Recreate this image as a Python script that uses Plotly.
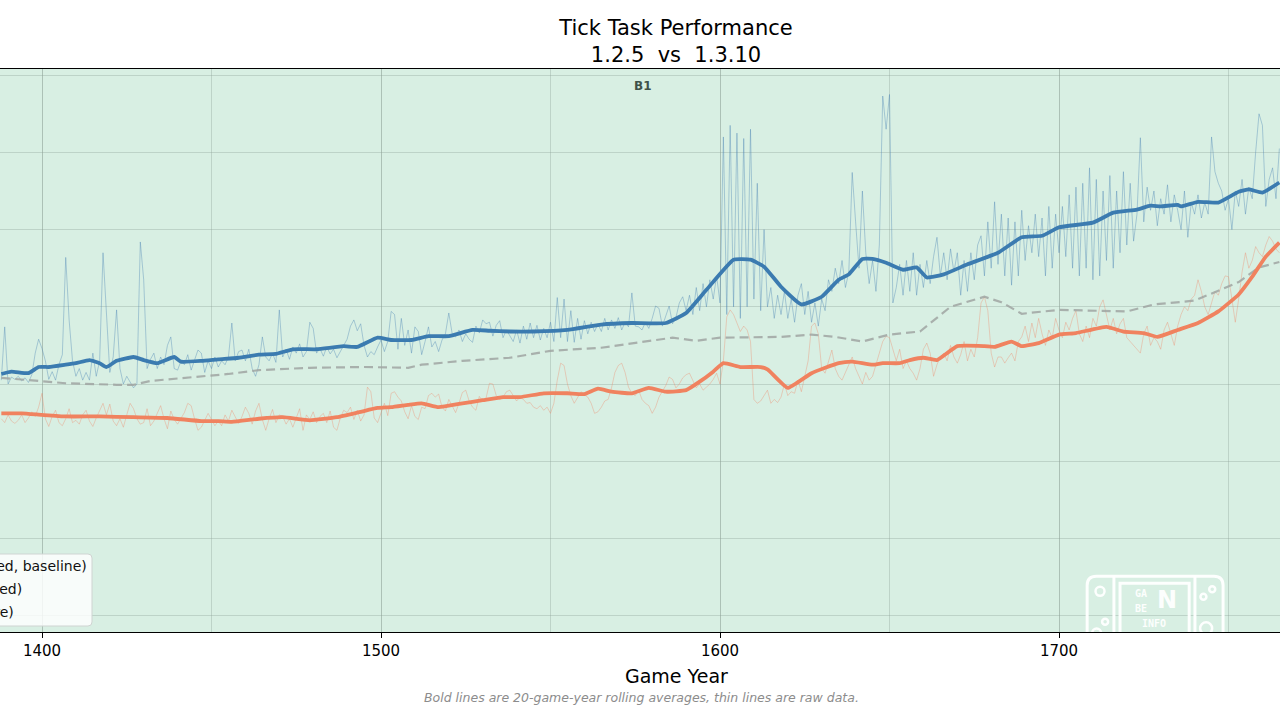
import plotly.graph_objects as go

# ---------------- data ----------------
years = list(range(1388, 1766))

blue_raw = [
    30.5, 37.4, 30.0, 30.9, 30.6, 31.0, 30.4, 30.8, 30.2, 31.2, 34.0, 35.8,
    34.6, 33.0, 30.6, 31.6, 30.5, 32.5, 33.8, 46.4, 38.3, 33.0,
    31.0, 32.0, 30.5, 31.5, 30.5, 34.0, 31.0, 33.0, 47.0, 39.2,
    31.5, 33.5, 39.6, 32.0, 30.0, 31.0, 30.2, 29.5, 30.0, 48.4,
    43.5, 32.0, 33.2, 34.0, 32.0, 33.5, 32.5, 35.0, 36.1, 32.0,
    31.8, 33.0, 32.5, 33.8, 31.8, 33.0, 34.4, 34.0, 31.5, 33.0,
    32.0, 33.5, 32.2, 33.0, 32.5, 33.5, 37.9, 33.0, 34.2, 34.4,
    33.0, 34.5, 32.0, 31.0, 32.5, 36.1, 33.5, 33.0, 34.0, 32.8,
    39.6, 33.5, 34.5, 33.2, 34.8, 34.0, 35.2, 33.5, 34.2, 38.0,
    37.2, 34.0, 34.6, 33.6, 34.8, 33.9, 34.5, 33.4, 34.2, 35.0,
    35.8, 37.5, 38.3, 36.9, 37.8, 35.0, 33.5, 34.2, 33.8, 34.8,
    35.7, 34.2, 35.5, 39.4, 39.0, 34.5, 38.5, 35.0, 37.0, 34.0,
    37.4, 36.8, 33.8, 35.5, 37.4, 34.8, 35.5, 34.2, 35.7, 36.5,
    39.2, 36.5, 36.1, 37.0, 35.5, 36.5, 35.8, 35.4, 37.5, 36.6,
    38.3, 37.8, 38.0, 36.2, 37.6, 38.2, 36.0, 37.0, 36.3, 35.5,
    37.0, 35.3, 37.5, 35.8, 37.9, 36.0, 37.6, 35.7, 37.2, 36.0,
    38.0, 35.5, 41.2, 36.0, 41.0, 35.5, 39.5, 35.4, 38.5, 35.8,
    38.2, 36.5, 38.0, 36.8, 37.8, 36.8, 38.5, 37.0, 38.3, 37.2,
    38.6, 37.0, 38.0, 37.4, 41.8, 37.5, 37.4, 37.0, 38.0, 37.2,
    38.5, 40.1, 39.8, 37.5, 38.8, 40.1, 37.8, 38.6, 40.5, 41.3,
    39.5, 41.5, 39.0, 42.5, 39.5, 43.0, 40.0, 43.5, 41.0, 44.0,
    40.5, 62.0, 39.0, 63.5, 40.0, 62.5, 38.5, 61.8, 40.0, 63.0,
    41.0, 56.0, 39.5, 50.0, 40.0, 42.5, 38.5, 41.5, 39.0, 42.0,
    38.5, 41.0, 38.0, 41.5, 43.0, 39.0, 42.0, 38.0, 40.5, 37.5,
    41.0, 39.5, 43.5, 42.0, 45.0, 43.0, 46.0, 42.5, 44.5, 57.4,
    51.0, 45.0, 55.0, 47.0, 43.0, 46.0, 42.0, 48.0, 67.3, 63.0,
    67.5, 40.5, 42.5, 45.5, 41.5, 46.0, 42.0, 47.0, 41.5, 45.5,
    42.5, 46.0, 43.0, 46.5, 49.0, 44.0, 47.0, 43.5, 47.5, 44.5,
    47.0, 41.5, 46.0, 42.0, 47.0, 43.5, 48.0, 49.2, 44.0, 51.0,
    45.0, 53.6, 45.5, 52.0, 44.0, 51.5, 42.8, 51.0, 44.0, 52.5,
    46.0, 50.5, 47.0, 52.0, 46.5, 51.5, 44.0, 53.0, 45.0, 52.0,
    47.0, 53.0, 46.5, 54.5, 45.0, 55.5, 44.0, 56.0, 45.0, 58.0,
    43.5, 56.5, 44.0, 55.0, 46.0, 57.0, 45.0, 55.0, 47.0, 57.5,
    48.0, 56.0, 48.5, 52.0, 61.9, 51.0, 55.5, 52.5, 55.0, 50.5,
    54.0, 52.0, 55.8, 51.0, 54.5, 52.5, 50.0, 55.0, 49.0, 53.5,
    52.0, 54.5, 51.5, 53.5, 52.0, 62.0, 57.5, 56.0, 55.0, 52.5,
    54.0, 50.0, 55.0, 53.0, 56.5, 52.0, 55.5, 54.0, 60.0, 65.0,
    63.5, 53.0, 56.5, 58.0, 54.0, 60.5,
]

orange_raw = [
    25.5, 25.0, 26.0, 25.2, 24.9, 25.3, 26.0, 25.0, 25.6, 26.4, 25.8, 27.0,
    28.8, 25.5, 24.5, 25.8, 26.6, 25.0, 24.6, 25.5, 26.8, 25.0,
    25.3, 24.8, 26.0, 26.6, 25.2, 24.5, 25.6, 26.6, 27.5, 26.0,
    27.4, 25.2, 24.6, 25.5, 24.4, 26.0, 27.5, 26.8, 25.5, 24.8,
    25.0, 26.8, 24.6, 25.2, 26.3, 27.2, 25.5, 24.2, 26.5, 25.4,
    24.8, 25.6, 26.3, 27.5, 27.2, 25.5, 24.0, 24.4, 25.3, 26.2,
    25.4, 24.6, 25.2, 24.6, 26.0, 25.2, 26.6, 25.8, 24.9, 25.8,
    27.0, 26.2, 24.8, 26.5, 27.5, 25.4, 24.0, 25.5, 26.7, 25.0,
    26.0, 25.8, 24.8, 25.5, 24.4, 25.6, 26.8, 24.0, 26.0, 25.4,
    26.4, 25.0, 25.8, 26.2, 25.0, 26.5, 24.4, 24.0, 25.6, 26.6,
    26.3, 27.0, 25.4, 26.6, 25.2, 26.0, 29.6, 29.0, 25.6, 25.0,
    26.2, 27.5, 25.9, 28.8, 29.0, 28.3, 27.8, 26.4, 25.5, 27.2,
    25.8, 25.4, 27.0, 26.8, 28.5, 28.8, 28.3, 28.7, 27.0, 26.5,
    28.0, 27.2, 26.3, 27.5, 28.9, 29.2, 27.8, 27.0, 26.6, 28.4,
    27.8, 28.2, 30.1, 30.0, 28.5, 28.0, 28.3, 29.0, 29.2, 28.5,
    27.8, 28.3, 28.0, 27.5, 27.6, 27.0, 26.8, 27.2, 26.6, 27.0,
    26.2, 27.5, 30.5, 32.7, 32.4, 30.0, 28.5, 27.5, 28.3, 29.0,
    28.6, 28.3, 27.5, 26.2, 26.4, 27.0, 27.8, 28.0, 29.5, 31.5,
    32.4, 32.7, 31.5, 29.6, 28.8, 28.5, 29.2, 28.0, 27.5, 27.2,
    26.2, 27.0, 28.3, 29.0, 29.8, 30.9, 30.6, 29.5, 30.0, 30.8,
    31.2, 31.4, 30.5, 29.5, 30.0, 29.2, 29.6, 30.0, 30.6, 31.4,
    30.0, 33.0, 38.7, 39.6, 39.0, 38.0, 36.8, 37.5, 37.0, 35.5,
    28.0, 27.5, 27.8, 28.5, 29.2, 27.5, 28.0, 27.6, 28.3, 30.0,
    28.5, 29.0, 28.8, 30.5, 29.0, 31.0, 33.0, 37.5, 37.9, 36.5,
    32.0, 31.4, 33.0, 34.4, 32.0, 31.0, 30.5, 31.5, 32.5, 33.5,
    32.0, 31.0, 30.0, 31.5, 30.5, 31.0, 32.5, 34.0, 35.5, 36.2,
    36.0, 34.5, 33.0, 34.5, 32.0, 33.0, 32.0, 31.4, 30.5, 32.0,
    34.5, 35.3, 34.0, 31.0, 32.5, 33.5, 34.0, 33.0, 35.0, 33.5,
    32.7, 33.8, 35.5, 33.0, 34.5, 33.5, 36.0, 40.5, 41.3, 39.5,
    34.0, 32.2, 33.5, 33.5, 32.7, 33.4, 34.0, 33.0, 35.5, 36.1,
    37.5, 35.5, 37.9, 36.0, 38.5, 36.5, 35.0, 37.0, 36.0, 38.5,
    37.0, 36.0, 38.0, 37.0, 38.5, 39.5, 36.5, 35.5, 37.5, 36.0,
    38.5, 37.5, 40.0, 40.9, 39.0, 37.0, 38.5, 36.5, 37.8, 38.5,
    36.0, 35.5, 35.0, 34.5, 34.0, 36.5, 37.5, 35.0, 36.0, 35.5,
    34.5, 37.0, 38.0, 36.5, 35.0, 37.5, 39.0, 40.0, 39.5, 41.0,
    41.5, 43.5, 42.0, 40.0, 39.0, 40.5, 42.0, 41.5, 43.0, 44.0,
    43.9, 41.0, 38.0, 41.0, 44.5, 47.0, 45.0, 46.0, 47.8, 47.0,
    46.5, 48.0, 49.1, 48.5, 47.5, 47.0,
]

blue_smooth_years = [1388, 1391, 1396, 1399, 1402, 1407, 1410, 1414, 1417, 1419, 1422, 1427,
                     1430, 1434, 1439, 1441, 1447, 1452, 1458, 1464, 1469, 1474, 1481, 1489,
                     1493, 1499, 1503, 1509, 1514, 1520, 1527, 1532, 1538, 1545, 1555, 1565,
                     1574, 1584, 1590, 1596, 1604, 1609, 1613, 1618, 1624, 1630, 1635, 1638,
                     1642, 1645, 1649, 1654, 1658, 1661, 1666, 1673, 1682, 1689, 1695, 1700,
                     1710, 1716, 1723, 1727, 1730, 1735, 1736, 1741, 1747, 1753, 1756, 1760, 1765]
blue_smooth = [31.3, 31.6, 31.4, 32.2, 32.2, 32.5, 32.7, 33.1, 32.7, 32.2, 33.0, 33.5,
               33.1, 32.7, 33.5, 32.9, 33.0, 33.2, 33.4, 33.8, 33.9, 34.5, 34.5, 34.9,
               34.8, 36.0, 35.7, 35.7, 36.2, 36.2, 37.0, 36.9, 36.8, 36.8, 37.0, 37.7,
               37.9, 37.9, 39.2, 42.2, 46.1, 46.1, 45.2, 42.6, 40.3, 41.3, 43.5, 44.2,
               46.2, 46.2, 45.7, 44.8, 45.1, 43.8, 44.2, 45.5, 47.0, 49.0, 49.2, 50.3,
               50.9, 52.2, 52.6, 53.1, 53.0, 53.2, 53.0, 53.6, 53.5, 54.9, 55.2, 54.8, 56.1]

orange_smooth_years = [1388, 1394, 1400, 1407, 1417, 1427, 1437, 1447, 1452, 1456, 1464, 1471,
                       1479, 1487, 1494, 1499, 1503, 1508, 1512, 1517, 1524, 1530, 1536, 1541,
                       1548, 1555, 1560, 1564, 1568, 1574, 1579, 1584, 1590, 1594, 1598, 1601,
                       1606, 1612, 1614, 1620, 1627, 1635, 1639, 1645, 1648, 1653, 1656, 1660,
                       1664, 1670, 1678, 1681, 1686, 1689, 1694, 1700, 1705, 1714, 1719, 1725,
                       1729, 1735, 1741, 1747, 1753, 1757, 1761, 1765]
orange_smooth = [26.2, 26.2, 26.0, 25.8, 25.8, 25.7, 25.6, 25.2, 25.2, 25.1, 25.5, 25.7,
                 25.3, 25.7, 26.4, 26.9, 27.0, 27.3, 27.5, 27.0, 27.5, 27.9, 28.3, 28.3,
                 28.8, 28.8, 28.7, 29.4, 29.0, 28.8, 29.5, 29.0, 29.2, 30.3, 31.6, 32.7,
                 32.2, 32.2, 31.9, 29.5, 31.4, 32.7, 32.9, 32.5, 32.7, 32.7, 33.1, 33.4,
                 33.1, 34.9, 34.9, 34.8, 35.5, 34.9, 35.3, 36.4, 36.6, 37.4, 36.8, 36.6,
                 36.1, 37.0, 37.9, 39.4, 41.6, 43.9, 46.5, 48.3]

gray_smooth_years = [1388, 1400, 1407, 1422, 1427, 1432, 1443, 1455, 1464, 1479, 1495, 1508,
                     1512, 1524, 1538, 1550, 1565, 1578, 1586, 1593, 1600, 1618, 1627, 1634,
                     1642, 1650, 1659, 1668, 1678, 1683, 1689, 1700, 1710, 1720, 1728, 1740,
                     1753, 1759, 1765]
gray_smooth = [30.8, 30.4, 30.1, 29.9, 29.9, 30.4, 30.8, 31.3, 31.8, 32.1, 32.2, 32.1,
               32.5, 33.0, 33.4, 34.3, 34.7, 35.5, 36.0, 35.6, 36.0, 36.1, 36.4, 36.1,
               35.5, 36.4, 36.8, 40.0, 41.3, 40.6, 39.1, 39.6, 39.5, 39.4, 40.3, 40.8,
               43.2, 45.1, 45.8]

legend_labels = ["1.2.5 (unmodded, baseline)", "1.3.10 (optimized)", "1.3.10 (one core)"]
x_ticks = [1400, 1500, 1600, 1700]

# ---------------- styles ----------------
BLUE = "#3b7bb0"
ORANGE = "#f0825f"
GRAY = "rgba(160,165,162,0.85)"
GRID = "rgba(140,160,150,0.35)"
BG = "#d8efe3"
FONT = "DejaVu Sans"

fig = go.Figure()
fig.add_trace(go.Scatter(x=years, y=blue_raw, mode="lines", name="1.3.10 raw A",
                         line=dict(color="rgba(70,130,180,0.38)", width=1), hoverinfo="skip"))
fig.add_trace(go.Scatter(x=years, y=orange_raw, mode="lines", name="1.3.10 raw B",
                         line=dict(color="rgba(240,128,96,0.34)", width=1), hoverinfo="skip"))
fig.add_trace(go.Scatter(x=gray_smooth_years, y=gray_smooth, mode="lines", name=legend_labels[0],
                         line=dict(color=GRAY, width=2.2, dash="9px,5px")))
fig.add_trace(go.Scatter(x=blue_smooth_years, y=blue_smooth, mode="lines", name=legend_labels[2],
                         line=dict(color=BLUE, width=3.8, shape="spline", smoothing=0.4)))
fig.add_trace(go.Scatter(x=orange_smooth_years, y=orange_smooth, mode="lines", name=legend_labels[1],
                         line=dict(color=ORANGE, width=3.8, shape="spline", smoothing=0.4)))

W, H = 1280, 720
L, R, T, B = 0, 0, 69, 88
pw, ph = W - L - R, H - T - B

def px_x(p):
    return p / pw

def px_y(p):
    return (H - B - p) / ph

shapes = []
annotations = []

# ---- cropped legend (box + left-aligned labels), as in the reference ----
lx1, ly0, ly1 = px_x(92), px_y(626), px_y(554)
rx, ry = px_x(4), 4 / ph
shapes.append(dict(
    type="path", xref="paper", yref="paper", layer="above",
    path=(f"M -0.3,{ly0} L {lx1 - rx},{ly0} Q {lx1},{ly0} {lx1},{ly0 + ry} "
          f"L {lx1},{ly1 - ry} Q {lx1},{ly1} {lx1 - rx},{ly1} L -0.3,{ly1} Z"),
    fillcolor="rgba(255,255,255,0.82)", line=dict(color="#cfd4d2", width=1)))
legend_styles = [dict(color=GRAY, width=2.2, dash="dash"),
                 dict(color=ORANGE, width=3.6),
                 dict(color=BLUE, width=3.6)]
for i, (lab, sty) in enumerate(zip(legend_labels, legend_styles)):
    yy = px_y(566 + 23 * i)
    annotations.append(dict(text=lab, xref="paper", yref="paper", x=px_x(-109), y=yy,
                            xanchor="left", yanchor="middle", showarrow=False, align="left",
                            font=dict(family=FONT, size=14, color="#111111")))
    shapes.append(dict(type="line", xref="paper", yref="paper", layer="above",
                       x0=px_x(-145), x1=px_x(-117), y0=yy, y1=yy, line=sty))

# ---- text annotations ----
annotations.append(dict(text="<b>B1</b>", xref="paper", yref="paper", x=px_x(643), y=px_y(86),
                        xanchor="center", yanchor="middle", showarrow=False,
                        font=dict(family=FONT, size=12, color="#3f5149")))
annotations.append(dict(text="Game Year", xref="paper", yref="paper", x=px_x(676), y=px_y(676),
                        xanchor="center", yanchor="middle", showarrow=False,
                        font=dict(family=FONT, size=19, color="black")))
annotations.append(dict(text="<i>Bold lines are 20-game-year rolling averages, thin lines are raw data.</i>",
                        xref="paper", yref="paper", x=px_x(641), y=px_y(697),
                        xanchor="center", yanchor="middle", showarrow=False,
                        font=dict(family=FONT, size=12.5, color="#8c8c8c")))

# ---- watermark logo (decoration, clipped by the plot area) ----
WM = "rgba(255,255,255,0.95)"
shapes.append(dict(type="path", xref="x", yref="y", layer="above",
                   path="M 1708.3,-6 L 1708.3,3.9 Q 1708.3,5.1 1711.0,5.1 L 1745.7,5.1 Q 1748.4,5.1 1748.4,3.9 L 1748.4,-6",
                   line=dict(color=WM, width=3)))
for xv in (1716.2, 1740.1):
    shapes.append(dict(type="line", xref="x", yref="y", layer="above",
                       x0=xv, x1=xv, y0=5.1, y1=-6, line=dict(color=WM, width=3)))
shapes.append(dict(type="path", xref="x", yref="y", layer="above",
                   path="M 1718.0,-6 L 1718.0,4.2 L 1738.4,4.2 L 1738.4,-6",
                   line=dict(color=WM, width=3)))
for cx, cy, rpx in [(1712.1, 3.15, 4.5), (1713.6, -0.79, 3), (1711.1, -2.25, 4.5),
                    (1742.6, 2.45, 3), (1745.2, 3.41, 3), (1743.4, -1.65, 6)]:
    dx, dy = rpx / 3.39, rpx / 7.72
    shapes.append(dict(type="circle", xref="x", yref="y", layer="above",
                       x0=cx - dx, x1=cx + dx, y0=cy - dy, y1=cy + dy,
                       line=dict(color=WM, width=2.5)))
for txt, xv, yv, sz in [("GA", 1724.2, 2.93, 10), ("BE", 1724.2, 0.9, 10),
                        ("INFO", 1728.0, -0.96, 10)]:
    annotations.append(dict(text=f"<b>{txt}</b>", xref="x", yref="y", x=xv, y=yv,
                            xanchor="center", yanchor="middle", showarrow=False,
                            font=dict(family="DejaVu Sans Mono", size=sz, color=WM)))
annotations.append(dict(text="<b>N</b>", xref="x", yref="y", x=1731.9, y=2.0,
                        xanchor="center", yanchor="middle", showarrow=False,
                        font=dict(family=FONT, size=24, color=WM)))

fig.update_layout(
    width=W, height=H,
    margin=dict(l=L, r=R, t=T, b=B, autoexpand=False),
    paper_bgcolor="white", plot_bgcolor=BG,
    font=dict(family=FONT, color="black"),
    showlegend=False,
    title=dict(text="Tick Task Performance<br>1.2.5\u00a0\u00a0vs\u00a0\u00a01.3.10",
               x=676 / W, xanchor="center", xref="paper",
               y=1 - 35 / H, yanchor="top", yref="container",
               font=dict(family=FONT, size=21, color="black")),
    xaxis=dict(range=[1387.61, 1765.19], tickvals=x_ticks, ticks="outside", ticklen=5,
               tickwidth=1, tickcolor="black", tickfont=dict(family=FONT, size=15, color="black"),
               showline=True, linecolor="black", linewidth=1.2, mirror=True,
               showgrid=True, gridcolor=GRID, gridwidth=1, zeroline=False,
               minor=dict(dtick=50, tick0=1400, showgrid=True, gridcolor=GRID, gridwidth=1, ticks="")),
    yaxis=dict(range=[-2.12, 70.8], tick0=0, dtick=10, showticklabels=False, ticks="",
               showgrid=True, gridcolor=GRID, gridwidth=1, zeroline=False, showline=False),
    shapes=shapes, annotations=annotations,
)

fig.write_html("out.html")
